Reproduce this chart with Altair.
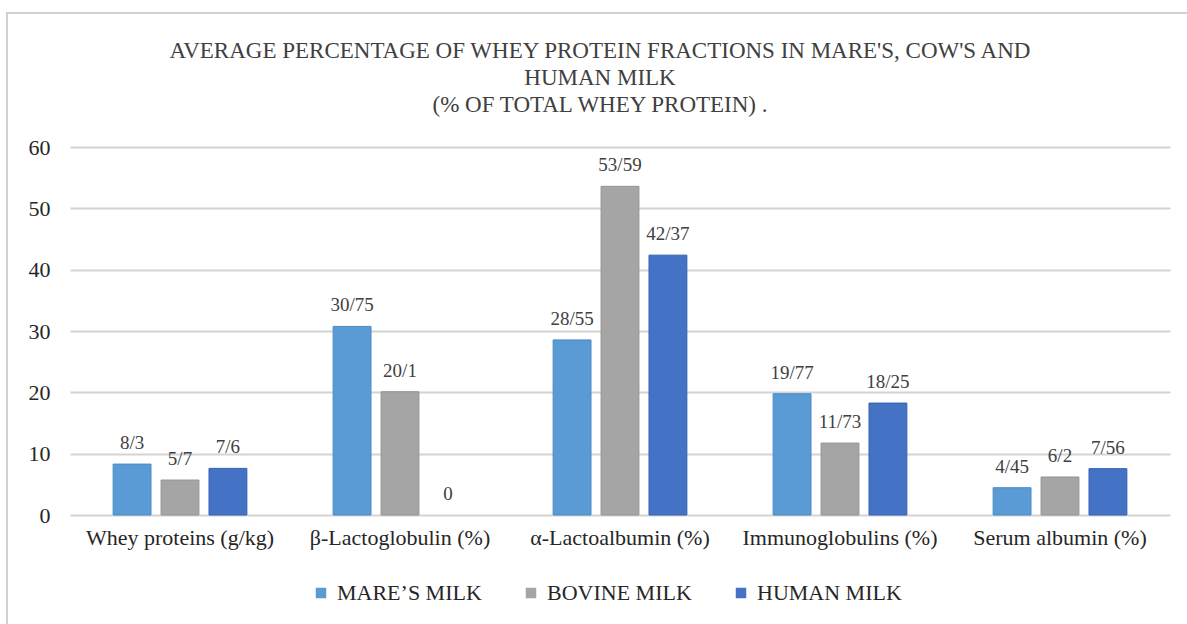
import altair as alt
import pandas as pd

# Whey protein fractions per milk type
categories = [
    "Whey proteins (g/kg)",
    "β-Lactoglobulin (%)",
    "α-Lactoalbumin (%)",
    "Immunoglobulins (%)",
    "Serum albumin (%)",
]
series = ["MARE’S MILK", "BOVINE MILK", "HUMAN MILK"]
mare = [8.3, 30.75, 28.55, 19.77, 4.45]
bovine = [5.7, 20.1, 53.59, 11.73, 6.2]
human = [7.6, 0, 42.37, 18.25, 7.56]
colors = ["#5B9BD5", "#A5A5A5", "#4472C4"]
title_lines = [
    "AVERAGE PERCENTAGE OF WHEY PROTEIN FRACTIONS IN MARE'S, COW'S AND",
    "HUMAN MILK",
    "(% OF TOTAL WHEY PROTEIN) .",
]

rows = []
for name, vals in zip(series, [mare, bovine, human]):
    for cat, v in zip(categories, vals):
        label = str(int(v)) if v == int(v) else str(v)
        rows.append({"category": cat, "milk": name, "value": v,
                     "label": label.replace(".", "/")})
df = pd.DataFrame(rows)
single = pd.DataFrame({"k": [0]})

FONT = "'Liberation Serif', 'Times New Roman', 'DejaVu Serif', serif"
TEXT = "#262626"

base = alt.Chart(df).encode(
    x=alt.X("category:N", sort=categories,
            scale=alt.Scale(paddingInner=0, paddingOuter=0),
            axis=alt.Axis(title=None, labelAngle=0, labelFontSize=22,
                          labelFont=FONT, labelColor=TEXT, labelLimit=0,
                          labelPadding=12, domain=False, ticks=False)),
    xOffset=alt.XOffset("milk:N", sort=series,
                        scale=alt.Scale(paddingInner=0.21, paddingOuter=0.9)),
)

bars = base.mark_bar(strokeWidth=1).encode(
    y=alt.Y("value:Q", scale=alt.Scale(domain=[0, 60]),
            axis=alt.Axis(title=None, values=[0, 10, 20, 30, 40, 50, 60],
                          labelFontSize=22, labelFont=FONT,
                          labelColor=TEXT, labelPadding=20,
                          domain=False, ticks=False,
                          gridColor="#d4d4d4", gridWidth=2)),
    color=alt.Color("milk:N", sort=series,
                    scale=alt.Scale(domain=series, range=colors),
                    legend=alt.Legend(title=None, orient="none",
                                      legendX=240, legendY=435,
                                      direction="horizontal",
                                      symbolType="square", symbolSize=110,
                                      symbolStrokeWidth=0,
                                      labelFont=FONT, labelFontSize=22,
                                      labelColor=TEXT, labelLimit=0,
                                      columnPadding=38, labelOffset=5)),
    stroke=alt.Stroke("milk:N", sort=series,
                      scale=alt.Scale(domain=series,
                                      range=["#4a8ac4", "#949494", "#3461b3"]),
                      legend=None),
    strokeOpacity=alt.condition("datum.value > 0", alt.value(1), alt.value(0)),
)

labels = base.mark_text(baseline="alphabetic", dy=-15, fontSize=19,
                        font=FONT, color="#404040").encode(
    y="value:Q",
    text="label:N",
)

# outer chart border (top and left edges visible)
frame = alt.Chart(single).mark_rect(fill=None, stroke="#d0d0d0",
                                    strokeWidth=2).encode(
    x=alt.value(-63), x2=alt.value(1130),
    y=alt.value(-134), y2=alt.value(620),
)

title = alt.Chart(single).mark_text(
    text=title_lines, font=FONT, fontSize=23, color="#404040",
    align="center", baseline="alphabetic", lineHeight=27,
).encode(x=alt.value(530), y=alt.value(-89))

chart = alt.layer(frame, title, bars, labels).properties(
    width=1100,
    height=368,
    autosize=alt.AutoSizeParams(type="none"),
    padding={"left": 70, "top": 147, "right": 17, "bottom": 109},
).configure(background="white").configure_view(stroke=None)

chart.save("out.html", embed_options={"renderer": "svg", "actions": False})
